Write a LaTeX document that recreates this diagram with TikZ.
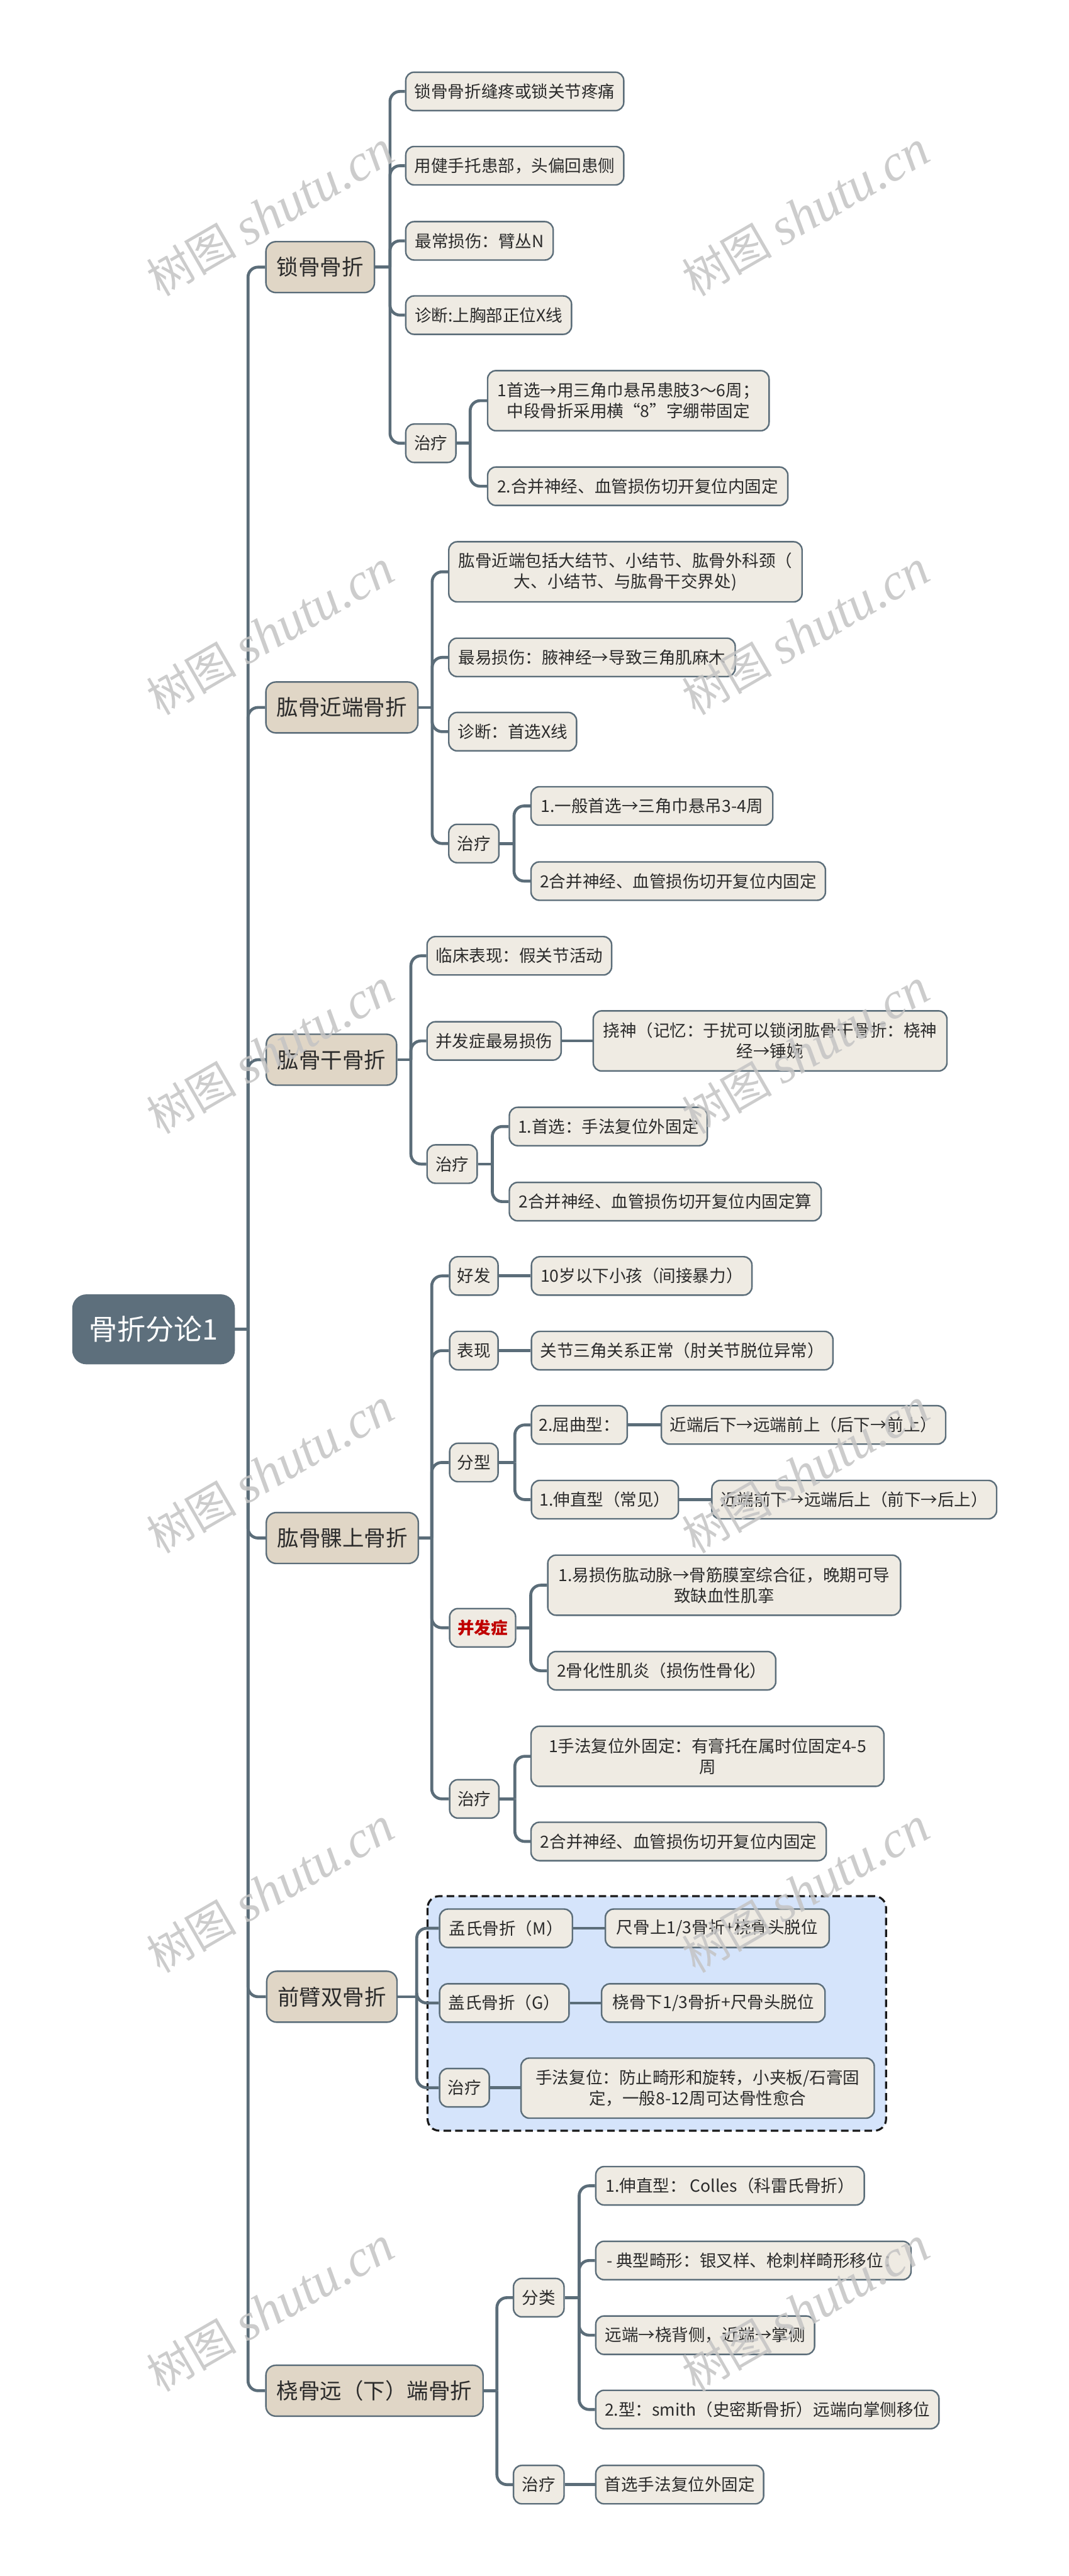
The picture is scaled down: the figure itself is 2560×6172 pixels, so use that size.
\documentclass[tikz,border=0pt]{standalone}
\usepackage{fontspec}
\setmainfont{Noto Sans CJK SC}
\newfontfamily\wmlatin{Liberation Serif}
\usetikzlibrary{calc}
\definecolor{lineC}{HTML}{5B6D79}
\definecolor{bodyF}{HTML}{EFEBE3}
\definecolor{topF}{HTML}{E0D6C6}
\definecolor{rootF}{HTML}{5D6F7C}
\definecolor{regionF}{HTML}{D5E4FB}
\definecolor{redT}{HTML}{C00000}
\definecolor{wmC}{HTML}{C4C4C4}
\definecolor{txtC}{HTML}{2B2B2B}
\pgfdeclarelayer{bgA}
\pgfdeclarelayer{bgB}
\pgfsetlayers{bgA,bgB,main}
\begin{document}
\begin{tikzpicture}[x=0.25pt,y=-0.25pt,
  box/.style={draw=lineC, line width=0.9pt, rounded corners=5pt, fill=bodyF, anchor=west,
    inner xsep=4.5pt, inner ysep=0pt, minimum height=23pt,
    font=\fontsize{10}{12.5}\selectfont, align=center, text=txtC},
  wd/.style={minimum width=#1*0.25pt},
  tall/.style={minimum height=36pt},
  l1/.style={box, fill=topF, font=\fontsize{13}{15}\selectfont, minimum height=30.5pt,
    inner xsep=6.5pt, rounded corners=6pt},
  rootbox/.style={box, fill=rootF, draw=rootF, text=white, font=\fontsize{17}{20}\selectfont,
    minimum height=41pt, rounded corners=8pt},
  conn/.style={draw=lineC, line width=1.75pt, rounded corners=6pt},
  region/.style={draw=black!90, fill=regionF, line width=1.2pt, dash pattern=on 4.5pt off 2.5pt, rounded corners=7pt},
  wm/.style={text=wmC, opacity=0.85, rotate=30, font=\fontsize{27}{30}\selectfont, inner sep=0pt}
]
\useasboundingbox (0,0) rectangle (2560,6172);

% root
\node[rootbox, wd=386] (R) at (173,3185) {骨折分论1};

% level 1
\node[l1, wd=259] (A) at (635,640) {锁骨骨折};
\node[l1, wd=361] (B) at (635,1695) {肱骨近端骨折};
\node[l1, wd=308] (C) at (636,2539) {肱骨干骨折};
\node[l1, wd=359] (D) at (636,3685) {肱骨髁上骨折};
\node[l1, wd=307] (E) at (637,4784) {前臂双骨折};
\node[l1, wd=517] (F) at (635,5728) {桡骨远（下）端骨折};

% A
\node[box, wd=522] (A1) at (970,219) {锁骨骨折缝疼或锁关节疼痛};
\node[box, wd=522] (A2) at (970,397) {用健手托患部，头偏回患侧};
\node[box, wd=353] (A3) at (970,577) {最常损伤：臂丛N};
\node[box, wd=397] (A4) at (970,755) {诊断:上胸部正位X线};
\node[box, wd=120] (A5) at (970,1062) {治疗};
\node[box, tall, wd=674] (A5a) at (1166,960) {1首选→用三角巾悬吊患肢3～6周；\\ 中段骨折采用横“8”字绷带固定};
\node[box, wd=719] (A5b) at (1166,1165) {2.合并神经、血管损伤切开复位内固定};

% B
\node[box, tall, wd=846] (B1) at (1073,1370) {肱骨近端包括大结节、小结节、肱骨外科颈（\\大、小结节、与肱骨干交界处)};
\node[box, wd=686] (B2) at (1073,1575) {最易损伤：腋神经→导致三角肌麻木};
\node[box, wd=306] (B3) at (1073,1753) {诊断：首选X线};
\node[box, wd=120] (B4) at (1073,2021) {治疗};
\node[box, wd=579] (B4a) at (1270,1931) {1.一般首选→三角巾悬吊3-4周};
\node[box, wd=705] (B4b) at (1270,2111) {2合并神经、血管损伤切开复位内固定};

% C
\node[box, wd=442] (C1) at (1021,2290) {临床表现：假关节活动};
\node[box, wd=321] (C2) at (1021,2494) {并发症最易损伤};
\node[box, tall, wd=847] (C2a) at (1419,2494) {挠神（记忆：于扰可以锁闭肱骨干骨折：桡神\\经→锤婉};
\node[box, wd=120] (C3) at (1021,2789) {治疗};
\node[box, wd=474] (C3a) at (1218,2699) {1.首选：手法复位外固定};
\node[box, wd=747] (C3b) at (1218,2879) {2合并神经、血管损伤切开复位内固定算};

% D
\node[box, wd=116] (D1) at (1075,3057) {好发};
\node[box, wd=528] (D1a) at (1271,3057) {10岁以下小孩（间接暴力）};
\node[box, wd=116] (D2) at (1075,3236) {表现};
\node[box, wd=722] (D2a) at (1271,3236) {关节三角关系正常（肘关节脱位异常）};
\node[box, wd=116] (D3) at (1075,3504) {分型};
\node[box, wd=229] (D3a) at (1271,3414) {2.屈曲型：};
\node[box, wd=681] (D3a1) at (1582,3414) {近端后下→远端前上（后下→前上）};
\node[box, wd=352] (D3b) at (1271,3593) {1.伸直型（常见）};
\node[box, wd=682] (D3b1) at (1703,3593) {近端前下→远端后上（前下→后上）};
\node[box, wd=158, text=redT, font=\fontsize{10}{12.5}\selectfont\bfseries] (D4) at (1075,3900) {并发症};
\node[box, tall, wd=845] (D4a) at (1310,3798) {1.易损伤肱动脉→骨筋膜室综合征，晚期可导\\致缺血性肌挛};
\node[box, wd=546] (D4b) at (1310,4003) {2骨化性肌炎（损伤性骨化）};
\node[box, wd=118] (D5) at (1075,4310) {治疗};
\node[box, tall, wd=845] (D5a) at (1270,4208) {1手法复位外固定：有膏托在属时位固定4-5\\周};
\node[box, wd=707] (D5b) at (1270,4412) {2合并神经、血管损伤切开复位内固定};

% E
\node[box, wd=318] (E1) at (1051,4620) {孟氏骨折（M）};
\node[box, wd=536] (E1a) at (1448,4620) {尺骨上1/3骨折+桡骨头脱位};
\node[box, wd=310] (E2) at (1051,4799) {盖氏骨折（G）};
\node[box, wd=535] (E2a) at (1439,4799) {桡骨下1/3骨折+尺骨头脱位};
\node[box, wd=119] (E3) at (1051,5002) {治疗};
\node[box, tall, wd=846] (E3a) at (1246,5003) {手法复位：防止畸形和旋转，小夹板/石膏固\\定，一般8-12周可达骨性愈合};

% F
\node[box, wd=121] (F1) at (1228,5505) {分类};
\node[box, wd=643] (F1a) at (1425,5237) {1.伸直型：\ Colles（科雷氏骨折）};
\node[box, wd=755] (F1b) at (1425,5416) {- 典型畸形：银叉样、枪刺样畸形移位：};
\node[box, wd=524] (F1c) at (1425,5595) {远端→桡背侧，近端→掌侧};
\node[box, wd=822] (F1d) at (1425,5773) {2.型：smith（史密斯骨折）远端向掌侧移位};
\node[box, wd=121] (F2) at (1228,5953) {治疗};
\node[box, wd=402] (F2a) at (1425,5953) {首选手法复位外固定};

% bus coordinates
\coordinate (bR) at (594,0);
\coordinate (bA) at (934,0);
\coordinate (bA5) at (1126,0);
\coordinate (bB) at (1035,0);
\coordinate (bB4) at (1231,0);
\coordinate (bC) at (984,0);
\coordinate (bC3) at (1179,0);
\coordinate (bD) at (1034,0);
\coordinate (bD3) at (1233,0);
\coordinate (bD4) at (1271,0);
\coordinate (bD5) at (1233,0);
\coordinate (bE) at (998,0);
\coordinate (bF) at (1190,0);
\coordinate (bF1) at (1387,0);

\begin{pgfonlayer}{bgA}
\fill[white] (0,0) rectangle (2560,6172);
\draw[region] (1024,4543) rectangle (2122,5105);
\end{pgfonlayer}

\begin{pgfonlayer}{bgB}
\foreach \p/\cl in {R/{A,B,C,D,E,F}, A/{A1,A2,A3,A4,A5}, A5/{A5a,A5b}, B/{B1,B2,B3,B4}, B4/{B4a,B4b}, C/{C1,C2,C3}, C3/{C3a,C3b}, D/{D1,D2,D3,D4,D5}, D3/{D3a,D3b}, D4/{D4a,D4b}, D5/{D5a,D5b}, E/{E1,E2,E3}, F/{F1,F2}, F1/{F1a,F1b,F1c,F1d}}{
  \draw[conn] (\p.east) -- (\p.east -| b\p);
  \foreach \c in \cl {\draw[conn] (\p.east -| b\p) |- (\c.west);}
}
\foreach \a/\b in {C2/C2a, D1/D1a, D2/D2a, D3a/D3a1, D3b/D3b1, E1/E1a, E2/E2a, E3/E3a, F2/F2a}
  {\draw[conn] (\a.east) -- (\a.east -| \b.west);}
\end{pgfonlayer}

% watermarks
\foreach \wy in {512,1516,2520,3525,4529,5533}{
  \node[wm] (wmL\wy) at (648,\wy) {树图 {\wmlatin\itshape\fontsize{31}{34}\selectfont shutu.cn}};
  \node[wm] (wmR\wy) at (1930,\wy) {树图 {\wmlatin\itshape\fontsize{31}{34}\selectfont shutu.cn}};
}
\end{tikzpicture}
\end{document}
